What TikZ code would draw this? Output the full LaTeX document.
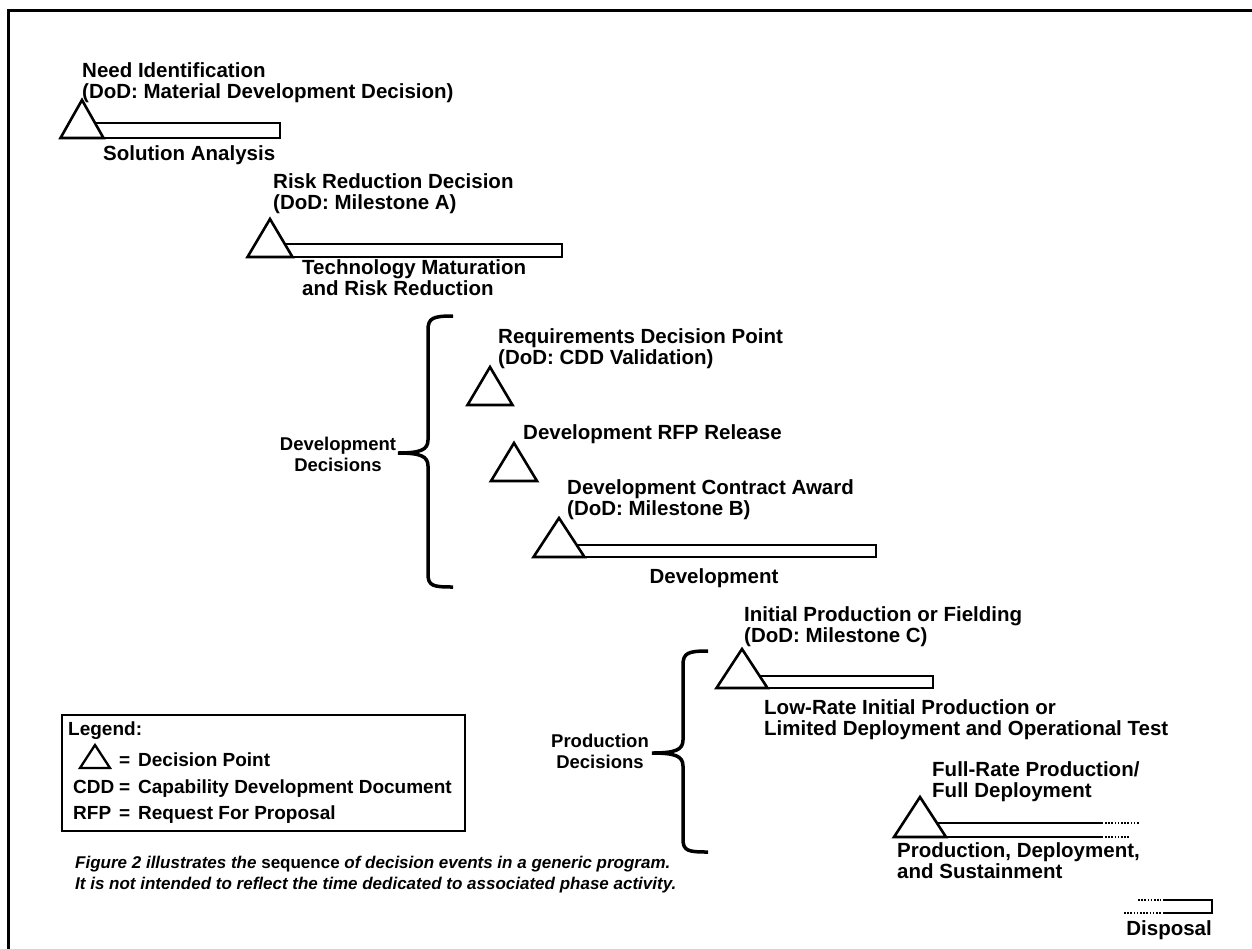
\documentclass[tikz,border=0pt]{standalone}
\usepackage{fontspec}
\setmainfont{Liberation Sans}
\newcommand\dectri[4]{\draw[tri] (#1-#3/2,#2) -- (#1,#2-#4) -- (#1+#3/2,#2) -- cycle;}
\begin{document}
\begin{tikzpicture}[x=1pt,y=-1pt,
  lbl/.style={anchor=base west, align=left, inner sep=0pt, font=\bfseries\fontsize{20.5}{21}\selectfont},
  grp/.style={anchor=base, align=center, inner sep=0pt, font=\bfseries\fontsize{18.5}{21}\selectfont},
  leg/.style={anchor=base west, inner sep=0pt, font=\bfseries\fontsize{19}{21}\selectfont},
  captxt/.style={anchor=base west, align=left, inner sep=0pt, font=\bfseries\itshape\fontsize{17}{21}\selectfont},
  tri/.style={draw=black, fill=white, line width=2.6pt, line join=miter},
  bar/.style={draw=black, fill=white, line width=2pt},
  brc/.style={draw=black, line width=3.5pt},
  dots/.style={draw=black, line width=1.6pt, dash pattern=on 1.6pt off 1.6pt}]
\useasboundingbox (0,0) rectangle (1252,948);
\clip (0,0) rectangle (1252,948);
\fill[white] (0,0) rectangle (1252,948);
\draw[line width=3pt] (8,970) -- (8,10) -- (1270,10);

% Need identification (anchor = baseline of last line)
\node[lbl] (need) at (82,98) {Need Identification\\(DoD: Material Development Decision)};
\draw[bar] (82,123) rectangle (280,138);
\dectri{82}{138}{43}{38}
\node[lbl] (solan) at (103,160) {Solution Analysis};

% Risk reduction
\node[lbl] (risk) at (273,209) {Risk Reduction Decision\\(DoD: Milestone A)};
\draw[bar] (270,244) rectangle (562,257);
\dectri{270}{257}{45}{38}
\node[lbl] (tmrr) at (302,295) {Technology Maturation\\and Risk Reduction};

% Development decisions brace
\draw[brc] (453,316) .. controls (433,316) and (428,318) .. (428,330) -- (428,440)
  .. controls (428,450) and (420,453) .. (398,453)
  .. controls (420,453) and (428,456) .. (428,466) -- (428,574)
  .. controls (428,586) and (433,587) .. (453,587);
\node[grp] (devdec) at (338,471) {Development\\Decisions};

% Requirements decision point
\node[lbl] (req) at (498,364) {Requirements Decision Point\\(DoD: CDD Validation)};
\dectri{490}{405}{45}{38}

% RFP release
\node[lbl] (rfp) at (523,439) {Development RFP Release};
\dectri{514}{481}{46}{38}

% Contract award
\node[lbl] (award) at (567,515) {Development Contract Award\\(DoD: Milestone B)};
\draw[bar] (559,545) rectangle (876,557);
\dectri{559}{557}{51}{39}
\node[lbl, anchor=base] (dev) at (714,583) {Development};

% Production decisions brace
\draw[brc] (708,651) .. controls (688,651) and (683,653) .. (683,665) -- (683,740)
  .. controls (683,750) and (675,753) .. (652,753)
  .. controls (675,753) and (683,756) .. (683,766) -- (683,839)
  .. controls (683,851) and (688,852) .. (708,852);
\node[grp] (proddec) at (600,768) {Production\\Decisions};

% Milestone C
\node[lbl] (msc) at (744,642) {Initial Production or Fielding\\(DoD: Milestone C)};
\draw[bar] (742,676) rectangle (933,688);
\dectri{742}{688}{51}{39}
\node[lbl] (lrip) at (764,735) {Low-Rate Initial Production or\\Limited Deployment and Operational Test};

% Full rate
\node[lbl] (frp) at (932,797) {Full-Rate Production/\\Full Deployment};
\draw[line width=2pt] (920,823) -- (1103,823);
\draw[line width=2pt] (920,837) -- (1103,837);
\draw[dots] (1105,823) -- (1139,823);
\draw[dots] (1105,837) -- (1130,837);
\dectri{920}{837}{52}{40}
\node[lbl] (pds) at (897,878) {Production, Deployment,\\and Sustainment};

% Disposal
\draw[dots] (1138,900) -- (1161,900);
\draw[dots] (1124,913) -- (1161,913);
\draw[line width=2pt] (1163,900) -- (1212,900) -- (1212,913) -- (1163,913);
\node[lbl, anchor=base east] (disp) at (1212,935) {Disposal};

% Legend
\draw[line width=2.5pt] (62,715) rectangle (465,831);
\node[leg] (legt) at (68,735) {Legend:};
\draw[tri, line width=2.3pt] (80,768) -- (95,745) -- (110,768) -- cycle;
\node[leg] (leg1e) at (119,766) {=};
\node[leg] (leg1) at (138,766) {Decision Point};
\node[leg] (leg2a) at (73,793) {CDD};
\node[leg] (leg2e) at (119,793) {=};
\node[leg] (leg2) at (138,793) {Capability Development Document};
\node[leg] (leg3a) at (73,819) {RFP};
\node[leg] (leg3e) at (119,819) {=};
\node[leg] (leg3) at (138,819) {Request For Proposal};

% Caption
\node[captxt] (caption) at (75,889) {Figure 2 illustrates the \textup{sequence} of decision events in a generic program.\\It is not intended to reflect the time dedicated to associated phase activity.};
\end{tikzpicture}
\end{document}
